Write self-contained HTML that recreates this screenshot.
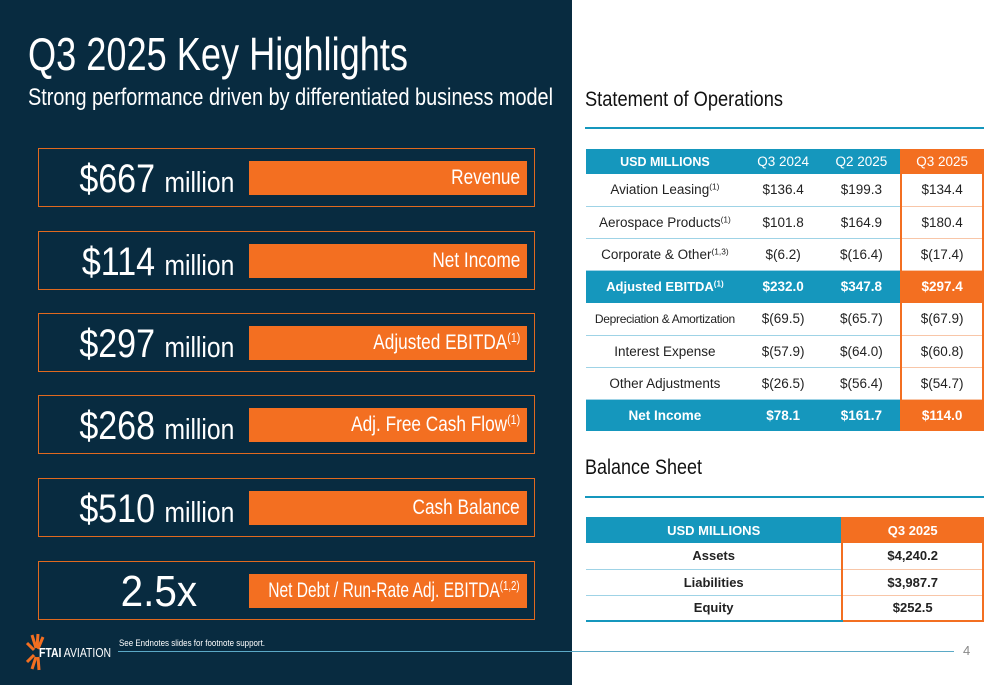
<!DOCTYPE html>
<html><head><meta charset="utf-8">
<style>
*{margin:0;padding:0;box-sizing:border-box}
body{width:1000px;height:685px;position:relative;overflow:hidden;background:#fff;font-family:"Liberation Sans",sans-serif}
.abs{position:absolute;white-space:nowrap}
#left{position:absolute;left:0;top:0;width:572px;height:685px;background:#082b40}
.box{position:absolute;left:38px;width:497px;height:59px;border:1.5px solid #e0691f}
.big{position:absolute;right:300px;top:8px;color:#fff;font-size:40px;line-height:44px;white-space:nowrap;transform:scaleX(.85);transform-origin:100% 50%}
.big small{font-size:29px}
.bar{position:absolute;left:210px;top:12px;width:278px;height:34px;background:#f36f21;color:#fff;font-size:21px;line-height:34px;white-space:nowrap}
.bar span{position:absolute;right:7px;top:0;transform:scaleX(.82);transform-origin:100% 50%}
sup{font-size:0.62em;vertical-align:0.55em;line-height:0}
table{position:absolute;border-collapse:collapse;font-size:13.5px;color:#222}
td{text-align:center;padding:0;white-space:nowrap}
.hd td{background:#1597bd;color:#fff;font-weight:bold}
.hd td.o{background:#f36f21;font-weight:normal}
.tot td{background:#1597bd;color:#fff;font-weight:bold}
.tot td.o{background:#f36f21}
.r td{border-bottom:1px solid #9fd3e6}
td.o{border-left:2px solid #f36f21;border-right:2px solid #f36f21}
.r td.o{border-bottom:1px solid #f8c6a8}
</style></head><body>
<div id="left"></div>
<div class="abs fit" data-w="380" style="left:28px;top:28px;color:#fff;font-size:46px;line-height:52px">Q3 2025 Key Highlights</div>
<div class="abs fit" data-w="525" style="left:28px;top:84px;color:#fff;font-size:24px;line-height:28px">Strong performance driven by differentiated business model</div>

<div class="box" style="top:148px"><div class="big">$667 <small>million</small></div><div class="bar"><span>Revenue</span></div></div>
<div class="box" style="top:231px"><div class="big">$114 <small>million</small></div><div class="bar"><span>Net Income</span></div></div>
<div class="box" style="top:313px"><div class="big">$297 <small>million</small></div><div class="bar"><span>Adjusted EBITDA<sup>(1)</sup></span></div></div>
<div class="box" style="top:395px"><div class="big">$268 <small>million</small></div><div class="bar"><span>Adj. Free Cash Flow<sup>(1)</sup></span></div></div>
<div class="box" style="top:478px"><div class="big">$510 <small>million</small></div><div class="bar"><span>Cash Balance</span></div></div>
<div class="box" style="top:561px"><div class="big" style="right:337px;font-size:44px;transform:scaleX(.92)">2.5x</div><div class="bar"><span style="transform:scaleX(.74)">Net Debt / Run-Rate Adj. EBITDA<sup>(1,2)</sup></span></div></div>

<svg class="abs" style="left:26px;top:633px" width="22" height="38" viewBox="0 0 22 38">
<g stroke="#f36f21" stroke-width="3" stroke-linecap="butt">
<line x1="10" y1="15" x2="6" y2="2"/><line x1="11" y1="15" x2="12" y2="1"/><line x1="12" y1="16" x2="17" y2="4"/>
<line x1="8" y1="17" x2="1" y2="10"/><line x1="8" y1="22" x2="1" y2="29"/><line x1="10" y1="24" x2="6" y2="36"/><line x1="12" y1="24" x2="13" y2="37"/>
</g></svg>
<div class="abs fit" data-w="72" style="left:39px;top:645px;color:#fff;font-size:13px"><b>FTAI</b> AVIATION</div>
<div class="abs fit" data-w="146" style="left:119px;top:638px;color:#fff;font-size:9.5px">See Endnotes slides for footnote support.</div>
<div class="abs" style="left:118px;top:651px;width:836px;height:1px;background:#5ba9c6"></div>
<div class="abs" style="left:963px;top:643px;color:#888;font-size:13px">4</div>

<div class="abs fit" data-w="198" style="left:585px;top:88px;font-size:21px;color:#111">Statement of Operations</div>
<div class="abs" style="left:585px;top:127px;width:399px;height:2px;background:#1597bd"></div>
<table style="left:586px;top:149px;width:398px">
<colgroup><col style="width:158px"><col style="width:79px"><col style="width:79px"><col style="width:82px"></colgroup>
<tr class="hd" style="height:25px"><td style="font-size:12.5px">USD MILLIONS</td><td style="font-weight:normal">Q3 2024</td><td style="font-weight:normal">Q2 2025</td><td class="o">Q3 2025</td></tr>
<tr class="r" style="height:32px"><td>Aviation Leasing<sup>(1)</sup></td><td>$136.4</td><td>$199.3</td><td class="o">$134.4</td></tr>
<tr class="r" style="height:32px"><td>Aerospace Products<sup>(1)</sup></td><td>$101.8</td><td>$164.9</td><td class="o">$180.4</td></tr>
<tr class="r" style="height:32px"><td>Corporate &amp; Other<sup>(1,3)</sup></td><td>$(6.2)</td><td>$(16.4)</td><td class="o">$(17.4)</td></tr>
<tr class="tot" style="height:33px"><td style="font-size:13px">Adjusted EBITDA<sup>(1)</sup></td><td>$232.0</td><td>$347.8</td><td class="o">$297.4</td></tr>
<tr class="r" style="height:32px"><td style="font-size:12px;letter-spacing:-0.3px">Depreciation &amp; Amortization</td><td>$(69.5)</td><td>$(65.7)</td><td class="o">$(67.9)</td></tr>
<tr class="r" style="height:32px"><td>Interest Expense</td><td>$(57.9)</td><td>$(64.0)</td><td class="o">$(60.8)</td></tr>
<tr class="r" style="height:32px"><td>Other Adjustments</td><td>$(26.5)</td><td>$(56.4)</td><td class="o">$(54.7)</td></tr>
<tr class="tot" style="height:32px"><td>Net Income</td><td>$78.1</td><td>$161.7</td><td class="o">$114.0</td></tr>
</table>

<div class="abs fit" data-w="117" style="left:585px;top:456px;font-size:21px;color:#111">Balance Sheet</div>
<div class="abs" style="left:585px;top:496px;width:399px;height:2px;background:#1597bd"></div>
<table style="left:586px;top:517px;width:398px;font-size:13px">
<colgroup><col style="width:257px"><col style="width:141px"></colgroup>
<tr class="hd" style="height:26px"><td>USD MILLIONS</td><td class="o" style="font-weight:bold">Q3 2025</td></tr>
<tr class="r" style="height:26px"><td><b>Assets</b></td><td class="o"><b>$4,240.2</b></td></tr>
<tr class="r" style="height:26px"><td><b>Liabilities</b></td><td class="o"><b>$3,987.7</b></td></tr>
<tr style="height:26px"><td style="border-bottom:2px solid #1597bd"><b>Equity</b></td><td class="o" style="border-bottom:2px solid #f36f21"><b>$252.5</b></td></tr>
</table>
<script>
document.querySelectorAll('.fit').forEach(function(e){
var w=e.getBoundingClientRect().width;var t=+e.getAttribute('data-w');
e.style.transformOrigin='0 0';e.style.transform='scaleX('+(t/w)+')';});
</script>
</body></html>
